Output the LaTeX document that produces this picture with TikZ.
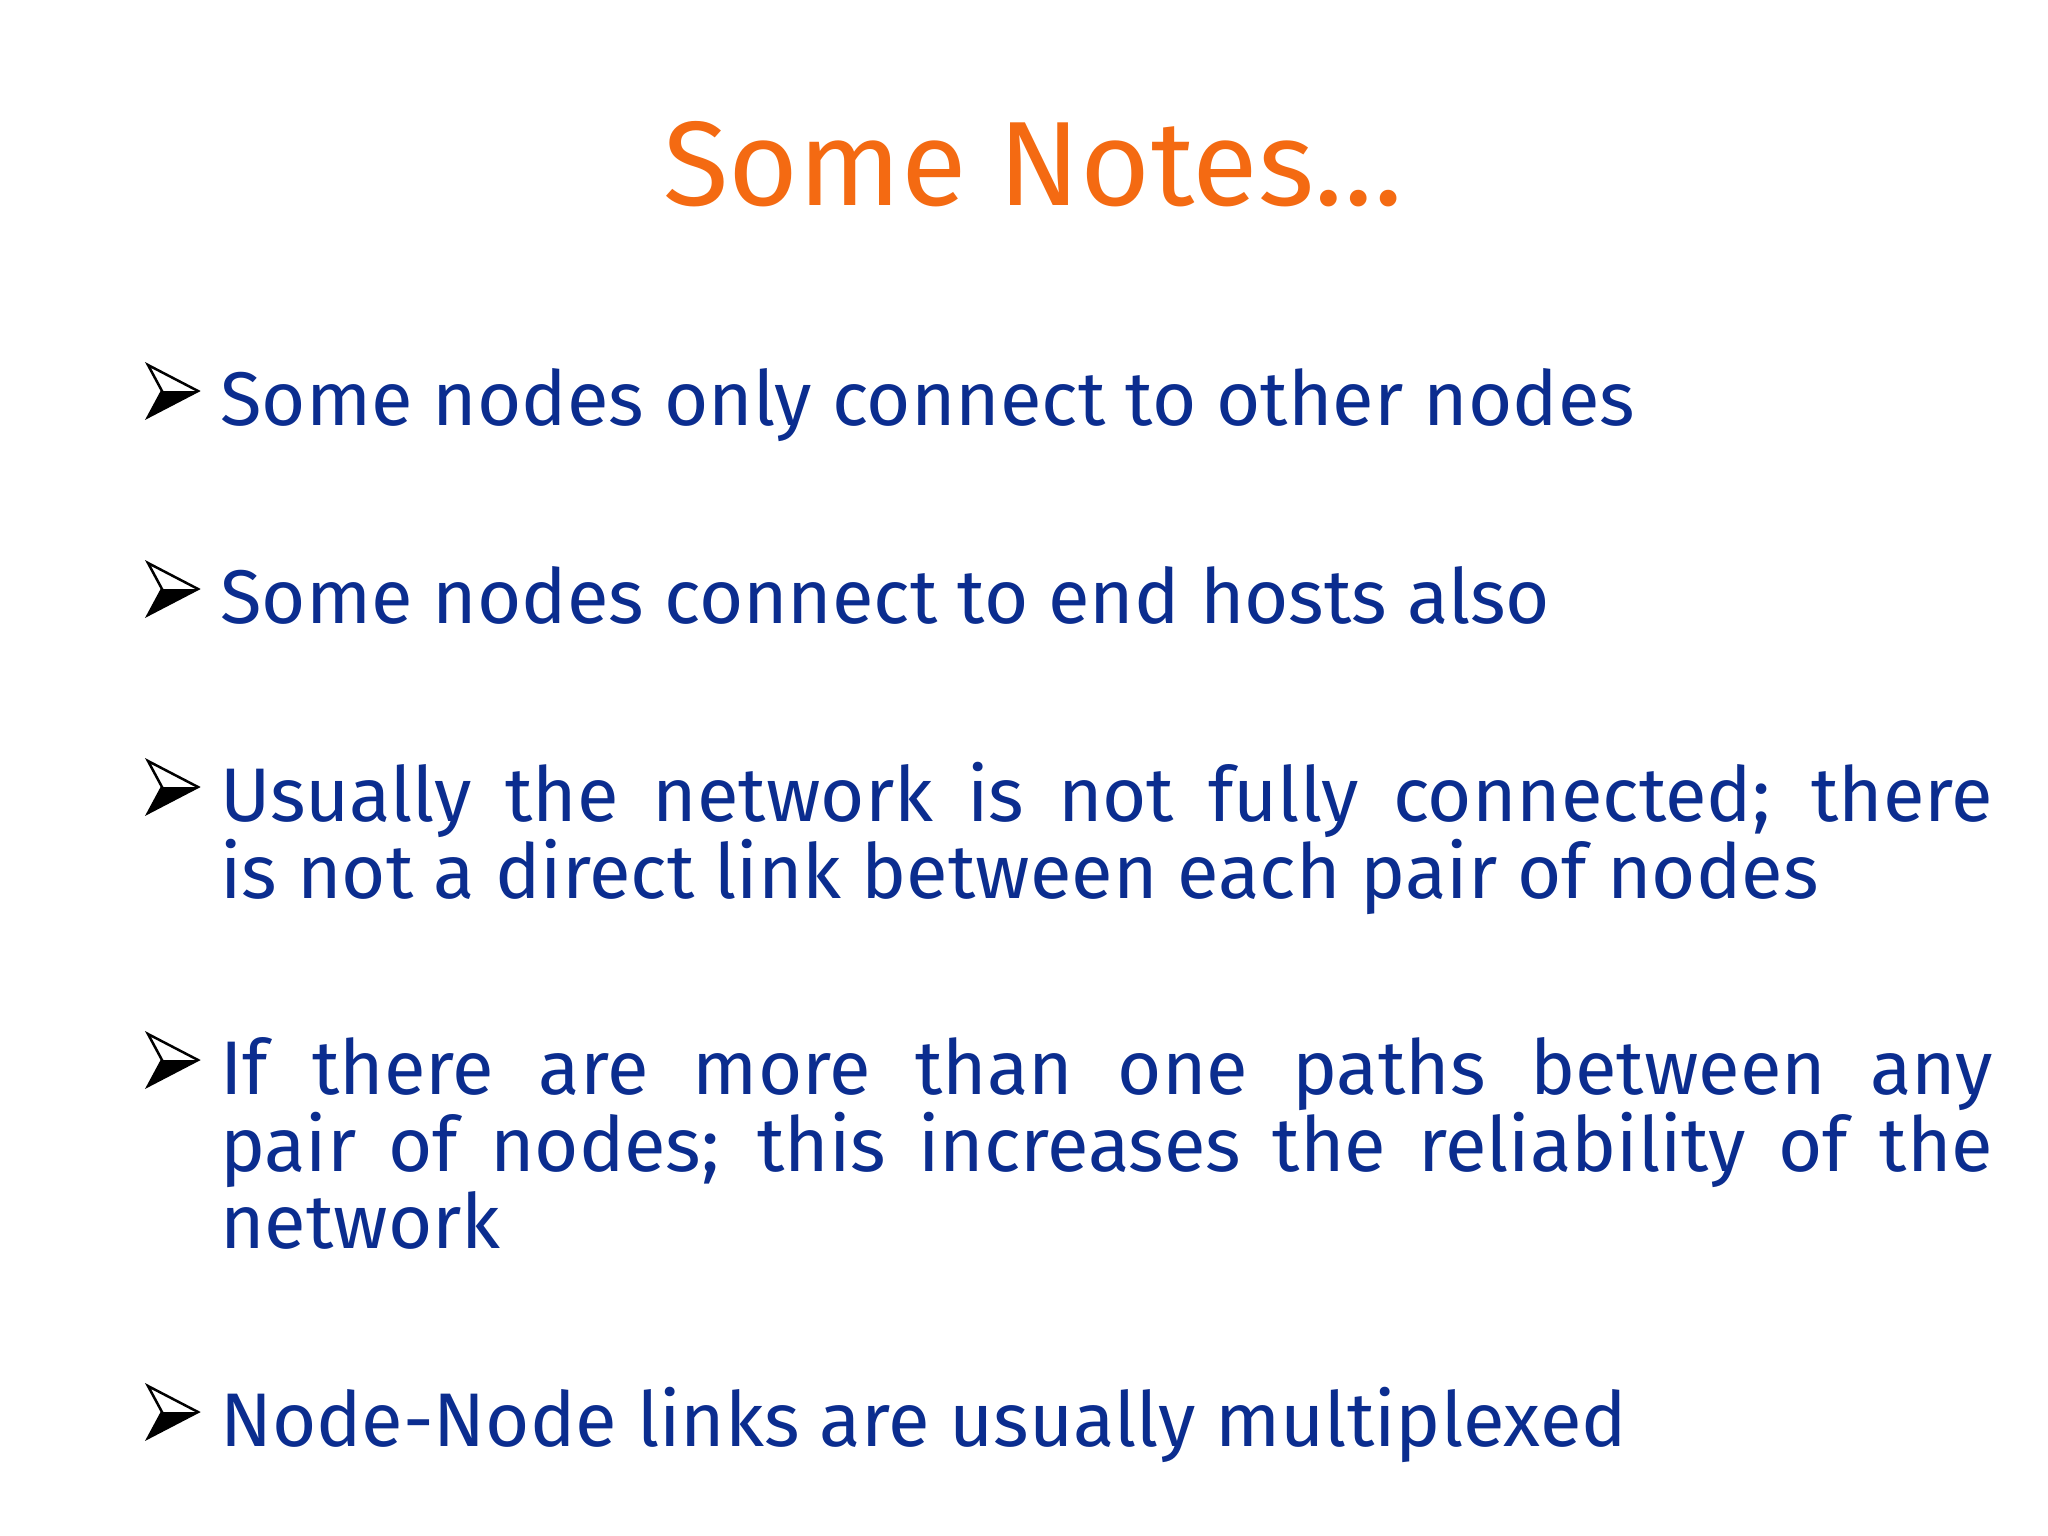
\documentclass[tikz,border=0pt]{standalone}
\usepackage{fontspec}
\setmainfont{Fira Sans}
\definecolor{ttl}{HTML}{F46A12}
\definecolor{txt}{HTML}{0B2D8F}
\begin{document}
\begin{tikzpicture}[x=1pt,y=-1pt,
  body/.style={anchor=base west,inner sep=0pt,text width=1773pt,align=justify,text=txt,font=\fontsize{76}{77}\selectfont,execute at begin node={\hyphenpenalty=10000 }},
  ]
\useasboundingbox[fill=white] (0,0) rectangle (2048,1536);
\node[anchor=base,inner sep=0pt,text=ttl,font=\fontsize{120}{120}\selectfont] (title) at (1033,205) {Some Notes…};
\newcommand\bul[1]{%
  \fill[black] (148,#1-8) -- (198,#1-34) -- (162,#1-34) -- cycle;
  \draw[black,line width=2.5pt,line join=miter] (148,#1-60) -- (198,#1-34) -- (148,#1-8) -- (162,#1-34) -- cycle;}
\bul{425}\bul{623}\bul{821}\bul{1094}\bul{1446}
\node[body] (b1) at (220,425) {Some nodes only connect to other nodes};
\node[body] (b2) at (220,623) {Some nodes connect to end hosts also};
\node[body] (b3) at (220,821) {Usually the network is not fully connected; there\linebreak is not a direct link between each pair of nodes};
\node[body] (b4) at (220,1094) {If there are more than one paths between any\linebreak pair of nodes; this increases the reliability of the\linebreak network};
\node[body] (b5) at (220,1446) {Node-Node links are usually multiplexed};
\end{tikzpicture}
\end{document}
